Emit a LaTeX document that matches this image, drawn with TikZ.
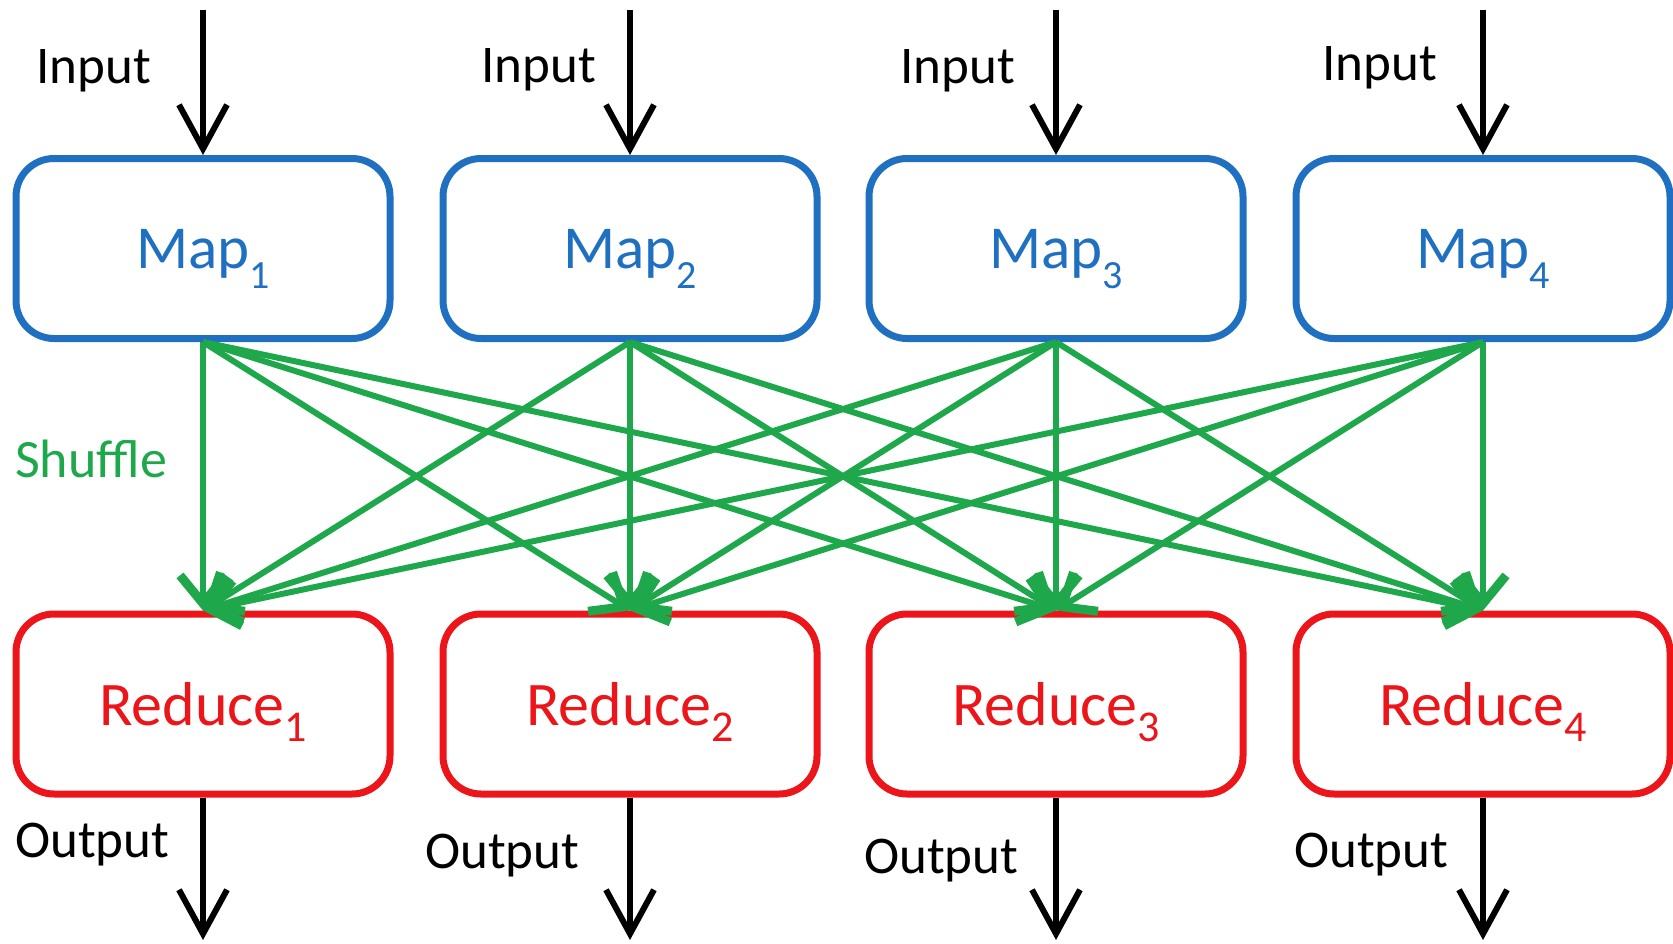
\documentclass[tikz,border=0pt]{standalone}
\usepackage{fontspec}
\setmainfont{Carlito}
\usetikzlibrary{arrows.meta}

\definecolor{mapblue}{RGB}{31,112,193}
\definecolor{reducered}{RGB}{236,22,26}
\definecolor{shufflegreen}{RGB}{30,168,75}

% lowered index digit after a box label
\newcommand\idx[3]{\raisebox{-#1pt}{\fontsize{#2}{#2}\selectfont #3}}

\begin{document}
\begin{tikzpicture}[x=1pt,y=-1pt,
  mapbox/.style={draw=mapblue, line width=7pt, rounded corners=38pt,
    minimum width=374pt, minimum height=180pt, inner sep=0pt,
    text=mapblue, font=\fontsize{61}{64}\selectfont,
    text height=39pt, text depth=0pt},
  reducebox/.style={draw=reducered, line width=7pt, rounded corners=38pt,
    minimum width=374pt, minimum height=180pt, inner sep=0pt,
    text=reducered, font=\fontsize{62}{66}\selectfont,
    text height=42pt, text depth=0pt},
  lbl/.style={anchor=base west, inner sep=0pt, font=\fontsize{53}{56}\selectfont},
  flow/.style={line width=6pt,
    -{Straight Barb[length=44pt,width=48pt,line width=6pt]}},
  shuffle/.style={draw=shufflegreen, line width=6pt,
    -{Straight Barb[length=28pt,width=46pt,line width=9pt]}}
]
\useasboundingbox (0,0) rectangle (1673,943);

% map and reduce boxes
\foreach \i/\x in {1/203,2/630,3/1056,4/1483}{
  \node[mapbox] (map\i) at (\x,248.5) {Map\idx{20}{40}{\i}};
  \node[reducebox] (red\i) at (\x,704) {Reduce\idx{16}{44}{\i}};
  \coordinate (src\i) at (\x,10);
  \coordinate (dst\i) at (\x,940);
}

% input and output labels
\foreach \i/\x/\y in {1/36/83,2/481/82,3/900/83,4/1322/80}
  \node[lbl] (inlbl\i) at (\x,\y) {Input};
\foreach \i/\x/\y in {1/15/857,2/425/868,3/864/873,4/1294/867}
  \node[lbl] (outlbl\i) at (\x,\y) {Output};
\node[lbl, text=shufflegreen, font=\fontsize{54}{58}\selectfont] (shufflelbl) at (15,477) {Shuffle};

% shuffle: every map feeds every reduce
\foreach \i in {1,...,4}
  \foreach \j in {1,...,4}
    \draw[shuffle] (map\i.south) -- (red\j.north);

% input and output arrows
\foreach \i in {1,...,4}{
  \draw[flow] (src\i) -- (map\i.north);
  \draw[flow] (red\i.south) -- (dst\i);
}
\end{tikzpicture}
\end{document}
